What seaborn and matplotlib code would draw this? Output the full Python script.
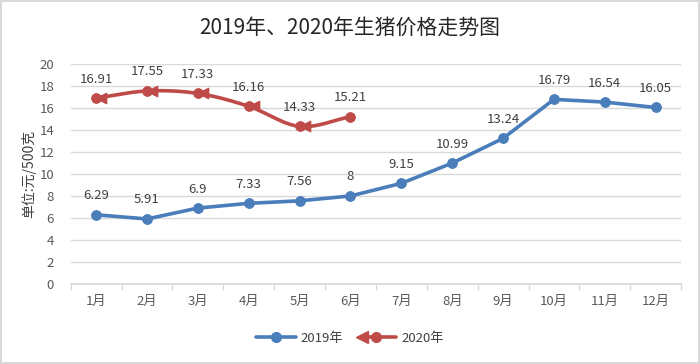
import numpy as np
import pandas as pd
import matplotlib
matplotlib.use("Agg")
import matplotlib.pyplot as plt
import matplotlib.transforms as mtransforms
from matplotlib.legend_handler import HandlerLine2D
import seaborn as sns

months = ["1月", "2月", "3月", "4月", "5月", "6月", "7月", "8月", "9月", "10月", "11月", "12月"]
price_2019 = [6.29, 5.91, 6.9, 7.33, 7.56, 8, 9.15, 10.99, 13.24, 16.79, 16.54, 16.05]
price_2020 = [16.91, 17.55, 17.33, 16.16, 14.33, 15.21]
title = "2019年、2020年生猪价格走势图"
ylabel = "单位:元/500克"

BLUE = "#4A7EBB"
RED = "#BE4B48"
TXT = "#404040"

sns.set_theme(style="white")
plt.rcParams["font.family"] = ["Noto Sans CJK SC", "DejaVu Sans"]


def catmull_rom(x, y, n=30):
    """ Smooth curve through the points, like a spreadsheet 'smoothed line' """
    x = np.asarray(x, float)
    y = np.asarray(y, float)
    px = np.concatenate([[2 * x[0] - x[1]], x, [2 * x[-1] - x[-2]]])
    py = np.concatenate([[2 * y[0] - y[1]], y, [2 * y[-1] - y[-2]]])
    xs, ys = [], []
    t = np.linspace(0, 1, n)
    for i in range(1, len(px) - 2):
        for p, out in ((px, xs), (py, ys)):
            p0, p1, p2, p3 = p[i - 1], p[i], p[i + 1], p[i + 2]
            seg = 0.5 * ((2 * p1) + (-p0 + p2) * t + (2 * p0 - 5 * p1 + 4 * p2 - p3) * t ** 2
                         + (-p0 + 3 * p1 - 3 * p2 + p3) * t ** 3)
            out.extend(seg)
    return np.array(xs), np.array(ys)


class ArrowLineHandler(HandlerLine2D):
    """ Legend entry: arrowhead at left, dot in the middle, line to the right """

    def create_artists(self, legend, orig_handle, xdescent, ydescent, width, height,
                       fontsize, trans):
        yc = height / 2 - ydescent
        x0, xm, x1 = -xdescent, -xdescent + width / 2, -xdescent + width
        line = plt.Line2D([x0 + 4, x1], [yc, yc], color=RED, linewidth=2.6, transform=trans)
        dot = plt.Line2D([xm], [yc], marker="o", markersize=7, color=RED, transform=trans)
        head = plt.Line2D([x0 + 4], [yc], marker="<", markersize=8, color=RED, transform=trans)
        return [line, dot, head]


df19 = pd.DataFrame({"x": np.arange(len(price_2019)), "price": price_2019})
df20 = pd.DataFrame({"x": np.arange(len(price_2020)), "price": price_2020})
sx, sy = catmull_rom(df20["x"], df20["price"])
smooth20 = pd.DataFrame({"x": sx, "price": sy})

fig = plt.figure(figsize=(7, 3.64), dpi=100)
fig.patch.set_edgecolor("#D9D9D9")
fig.patch.set_linewidth(1.5)
ax = fig.add_axes([0.101, 0.22, 0.872, 0.604])

sns.lineplot(data=df19, x="x", y="price", ax=ax, color=BLUE, linewidth=2.6,
             marker="o", markersize=7, markeredgecolor=BLUE, legend=False)
sns.lineplot(data=smooth20, x="x", y="price", ax=ax, color=RED, linewidth=2.6,
             legend=False)
sns.scatterplot(data=df20, x="x", y="price", ax=ax, color=RED, s=50,
                edgecolor=RED, zorder=4, legend=False)
# arrowhead at the start of each segment, just right of the point
heads = df20.iloc[:-1]
shift = mtransforms.ScaledTranslation(5 / 100, 0, fig.dpi_scale_trans)
ax.scatter(heads["x"], heads["price"], marker="<", s=55, color=RED, zorder=4,
           transform=ax.transData + shift)

for df in (df19, df20):
    for xv, yv in zip(df["x"], df["price"]):
        ax.annotate(f"{yv:g}", (xv, yv), xytext=(0, 9), textcoords="offset points",
                    ha="center", va="bottom", fontsize=9.5, color=TXT)

ax.set_xlim(-0.5, 11.5)
ax.set_ylim(0, 20)
ax.set_yticks(range(0, 21, 2))
ax.set_xticks(range(len(months)))
ax.set_xticklabels(months)
ax.set_xticks(np.arange(-0.5, 12, 1), minor=True)
ax.tick_params(axis="x", which="major", length=0, pad=8, labelsize=9.5, labelcolor="#595959")
ax.tick_params(axis="x", which="minor", length=4, color="#D9D9D9", width=1, bottom=True)
ax.tick_params(axis="y", length=0, pad=12, labelsize=9.5, labelcolor="#595959")
ax.grid(axis="y", color="#D9D9D9", linewidth=1)
for s in ("top", "right", "left"):
    ax.spines[s].set_visible(False)
ax.spines["bottom"].set_color("#D9D9D9")
ax.set_xlabel("")
ax.set_ylabel(ylabel, fontsize=10, color=TXT, labelpad=2)

h19 = plt.Line2D([], [], color=BLUE, linewidth=2.6, marker="o", markersize=7)
h20 = plt.Line2D([], [], color=RED, linewidth=2.6)
fig.legend([h19, h20], ["2019年", "2020年"], loc="center", bbox_to_anchor=(0.5, 0.07),
           ncol=2, frameon=False, fontsize=9.5, labelcolor=TXT, handlelength=3,
           columnspacing=1.0, handletextpad=0.4, handler_map={h20: ArrowLineHandler()})

fig.suptitle(title, y=0.955, fontsize=15, color="#262626")
fig.savefig("out.png", dpi=100)
